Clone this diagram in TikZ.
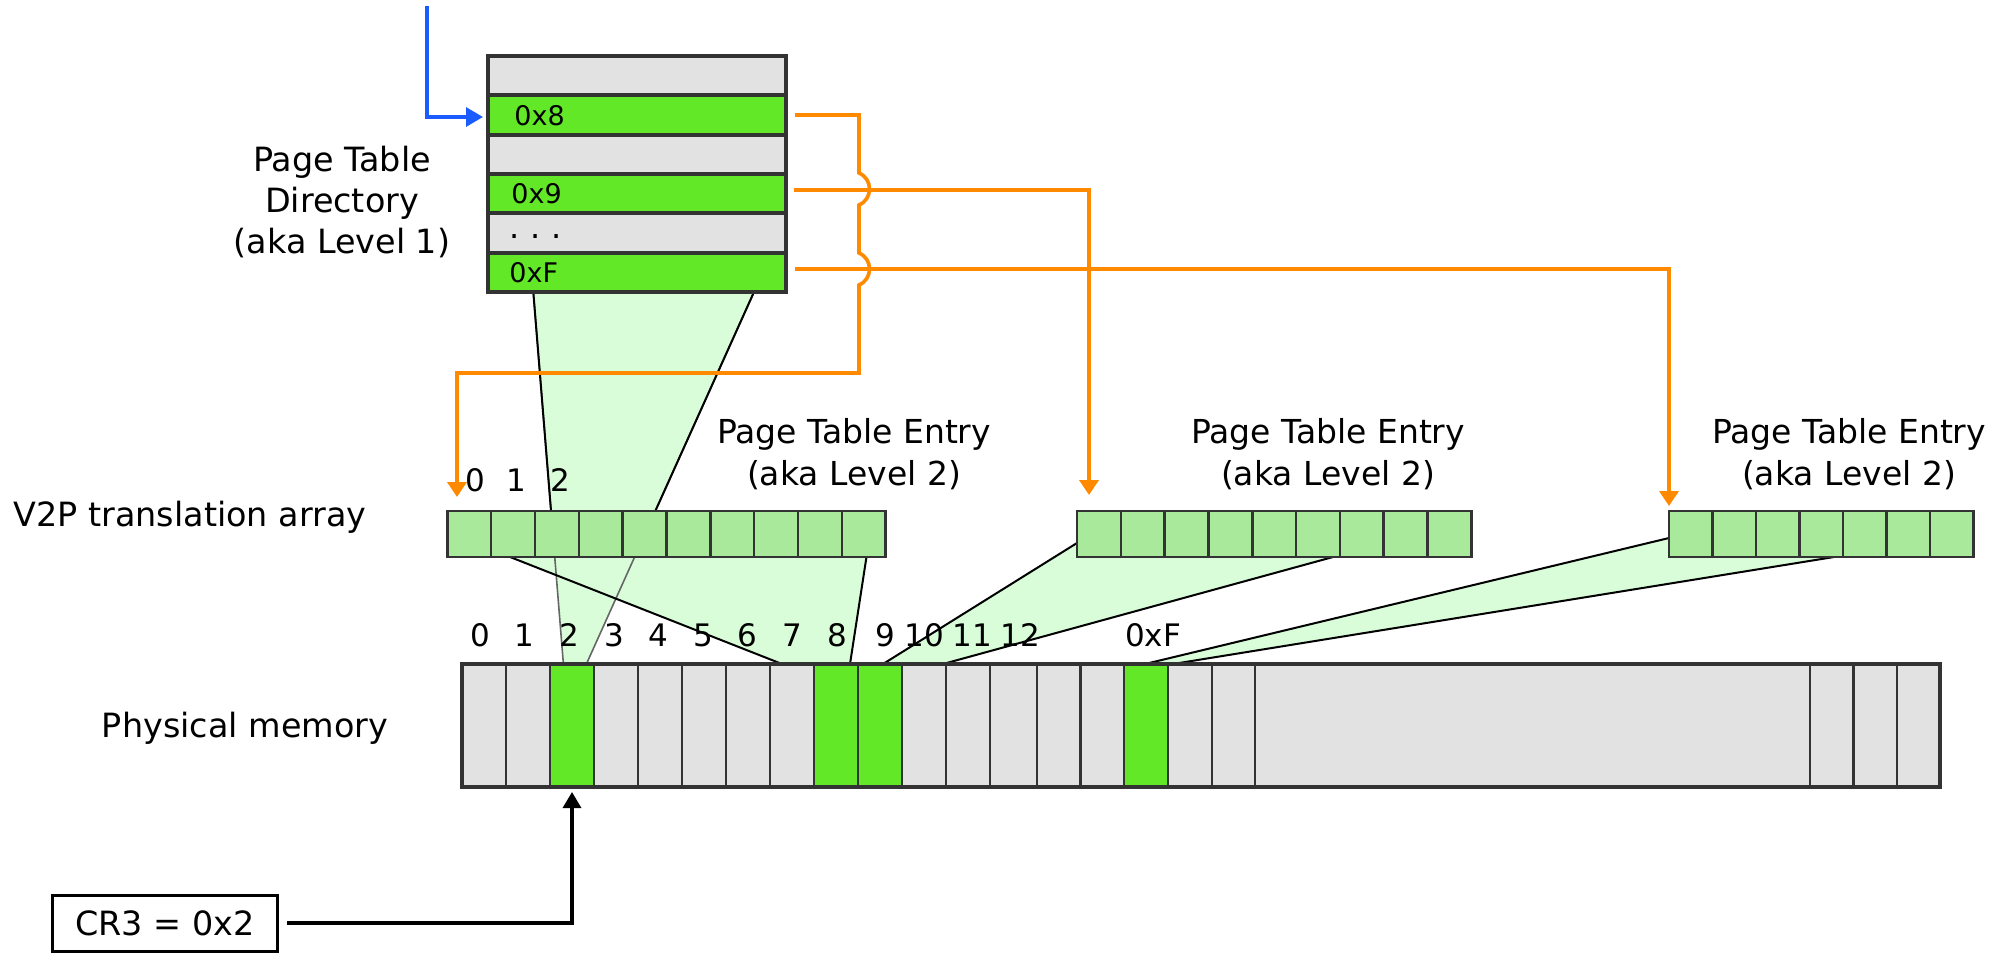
\documentclass[tikz,border=0pt]{standalone}
\usepackage{fontspec}
\setmainfont{DejaVu Sans}
\usetikzlibrary{arrows.meta,calc}

\definecolor{cellgray}{HTML}{E2E2E2}
\definecolor{hotgreen}{HTML}{62E826}
\definecolor{ptegreen}{HTML}{A9E99B}
\definecolor{fangreen}{HTML}{D9FCD9}
\definecolor{edge}{HTML}{333333}
\definecolor{wire}{HTML}{FF8A00}
\definecolor{entry}{HTML}{1A5CFF}

\begin{document}
\begin{tikzpicture}[x=0.5pt,y=-0.5pt,
  bigtext/.style={font=\fontsize{16.7pt}{20.5pt}\selectfont, align=center, inner sep=0pt},
  ptetext/.style={font=\fontsize{16.5pt}{21pt}\selectfont, align=center, inner sep=0pt},
  idx/.style={font=\fontsize{15.5pt}{18pt}\selectfont, inner sep=0pt},
  rowtxt/.style={font=\fontsize{13.5pt}{16pt}\selectfont, inner sep=0pt, anchor=west},
  dirrow/.style={draw=edge, line width=2pt, minimum width=149pt, minimum height=19.67pt, inner sep=0pt, outer sep=0pt},
  ptecell/.style={draw=edge, fill=ptegreen, line width=1.3pt, minimum height=23pt, inner sep=0pt, outer sep=0pt},
  memcell/.style={draw=edge, fill=cellgray, line width=1.4pt, minimum height=61.5pt, inner sep=0pt, outer sep=0pt},
  fan/.style={fill=fangreen},
  fanline/.style={draw=black, line width=1pt},
  fanback/.style={draw=black!60, line width=0.8pt},
  orangewire/.style={draw=wire, line width=1.8pt, -{Triangle[length=7.5pt,width=9.5pt]}},
  bluewire/.style={draw=entry, line width=1.6pt, -{Triangle[length=8.5pt,width=9.5pt]}},
  blackwire/.style={draw=black, line width=1.7pt, -{Triangle[length=8pt,width=9pt]}}
]
\useasboundingbox (0,0) rectangle (2014,953);

% ---------- reference points for the tables ----------
\foreach \i in {1,...,6}
  \coordinate (pd\i) at (637,{56+39.33*(\i-0.5)});
\foreach \k in {0,...,9}
  \coordinate (pa\k) at ({447.3+43.84*(\k+0.5)},534);
\foreach \k in {0,...,8}
  \coordinate (pb\k) at ({1077+43.8*(\k+0.5)},534);
\foreach \k in {0,...,6}
  \coordinate (pc\k) at ({1669+43.5*(\k+0.5)},534);

% ---------- fan-shaped mappings (behind the tables) ----------
\coordinate (ta1) at (533.3,292);
\coordinate (ta2) at (754,292);
\coordinate (ba1) at (563.4,664);
\coordinate (ba2) at (586.4,664);

\coordinate (tb1) at ({447.3+43.84*1.5-3},557);
\coordinate (tb2) at ({447.3+43.84*9.5+2.7},557);
\coordinate (bb1) at (782,664);
\coordinate (bb2) at (850,664);

\coordinate (tc0) at (1077,543);
\coordinate (tc1) at (1077,557);
\coordinate (tc2) at (1333,557);
\coordinate (bc1) at (883,664);
\coordinate (bc2) at (943,664);

\coordinate (td0) at (1669,538);
\coordinate (td1) at (1669,557);
\coordinate (td2) at (1834,557);
\coordinate (bd1) at (1145,664);
\coordinate (bd2) at (1173,664);

\fill[fan] (ta1) -- (ta2) -- (ba2) -- (ba1) -- cycle;
\fill[fan] (tb1) -- (tb2) -- (bb2) -- (bb1) -- cycle;
\fill[fan] (tc0) -- (tc1) -- (tc2) -- (bc2) -- (bc1) -- cycle;
\fill[fan] (td0) -- (td1) -- (td2) -- (bd2) -- (bd1) -- cycle;

\draw[fanback] (ta1) -- (ba1);
\draw[fanback] (ta2) -- (ba2);
\draw[fanline] (ta1) -- ($(ta1)!0.6!(ba1)$);
\draw[fanline] (ta2) -- ($(ta2)!0.6!(ba2)$);
\draw[fanline] (tb1) -- (bb1);
\draw[fanline] (tb2) -- (bb2);
\draw[fanline] (tc0) -- (bc1);
\draw[fanline] (tc2) -- (bc2);
\draw[fanline] (td0) -- (bd1);
\draw[fanline] (td2) -- (bd2);

% ---------- page table directory ----------
\foreach \i/\c in {1/cellgray,2/hotgreen,3/cellgray,4/hotgreen,5/cellgray,6/hotgreen}
  \node[dirrow, fill=\c] (d\i) at (pd\i) {};

% ---------- level 2 arrays ----------
\foreach \k in {0,...,9}
  \node[ptecell, minimum width=21.92pt] (a\k) at (pa\k) {};
\foreach \k in {0,...,8}
  \node[ptecell, minimum width=21.9pt] (b\k) at (pb\k) {};
\foreach \k in {0,...,6}
  \node[ptecell, minimum width=21.75pt] (c\k) at (pc\k) {};

% ---------- physical memory frames ----------
\foreach \n/\l/\r/\c in {0/462/506/cellgray, 1/506/550/cellgray, 2/550/594/hotgreen,
    3/594/638/cellgray, 4/638/682/cellgray, 5/682/726/cellgray, 6/726/770/cellgray,
    7/770/814/cellgray, 8/814/858/hotgreen, 9/858/902/hotgreen, 10/902/946/cellgray,
    11/946/990/cellgray, 12/990/1037/cellgray, 13/1037/1080.5/cellgray,
    14/1080.5/1124/cellgray, 15/1124/1168/hotgreen, 16/1168/1212/cellgray,
    17/1212/1255/cellgray, 18/1255/1810/cellgray, 19/1810/1853.5/cellgray,
    20/1853.5/1897/cellgray, 21/1897/1940/cellgray}
{
  \pgfmathsetmacro\w{(\r-\l)*0.5}
  \node[memcell, fill=\c, minimum width=\w pt] (m\n) at ({(\l+\r)/2},725.5) {};
}
\draw[edge, line width=2pt] (m0.north west) rectangle (m21.south east);

% ---------- directory entry texts ----------
\node[rowtxt] (t8) at (514,116) {0x8};
\node[rowtxt] (t9) at (511,193.5) {0x9};
\node[rowtxt, font=\fontsize{16pt}{18pt}\selectfont] (tdots) at (509,237) {.\,\,.\,\,.};
\node[rowtxt] (tF) at (509,272.5) {0xF};

% ---------- arrow ends ----------
\coordinate (bluein) at (427,6);
\coordinate (t1) at (457,497);
\coordinate (t2) at (1089,495);
\coordinate (t3) at (1669,506);

% ---------- pointers ----------
\draw[bluewire] (bluein) |- ([xshift=-2.5pt,yshift=-1pt]d2.west);

\draw[orangewire] ([xshift=4.5pt]d2.east) -- (859,115) -- (859,173)
  .. controls (873,179) and (873,199) .. (859,205) -- (859,253)
  .. controls (873,259) and (873,279) .. (859,285) -- (859,373) -- (457,373) -- (t1);
\draw[orangewire] ([shift={(4pt,1.85pt)}]d4.east) -| (t2);
\draw[orangewire] ([shift={(4.5pt,1.6pt)}]d6.east) -| (t3);

% ---------- CR3 register ----------
\node[draw=black, line width=1.5pt, minimum width=112.4pt, minimum height=28pt,
      inner sep=0pt, font=\fontsize{16.7pt}{20pt}\selectfont] (cr3) at (165,923) {CR3 = 0x2};
\draw[blackwire] ([xshift=4pt]cr3.east) -| ([yshift=-2.5pt]m2.south);

% ---------- labels ----------
\node[bigtext] (dirlabel) at (342,201.7) {Page Table\\Directory\\(aka Level 1)};
\node[bigtext] (v2p) at (190,517) {V2P translation array};
\node[bigtext] (physlabel) at (245,728) {Physical memory};
\node[ptetext] (pte1) at (854,454) {Page Table Entry\\(aka Level 2)};
\node[ptetext] (pte2) at (1328,454) {Page Table Entry\\(aka Level 2)};
\node[ptetext] (pte3) at (1849,454) {Page Table Entry\\(aka Level 2)};

\foreach \t/\x in {0/475,1/516,2/560}
  \node[idx] (ai\t) at (\x,480) {\t};
\foreach \t/\x/\n in {0/480/0,1/524/1,2/569/2,3/614/3,4/658/4,5/703/5,6/747/6,7/792/7,
    8/837/8,9/885/9,10/924/10,11/972/11,12/1020/12,0xF/1153/15}
  \node[idx] (mi\n) at (\x,635) {\t};
\end{tikzpicture}
\end{document}
